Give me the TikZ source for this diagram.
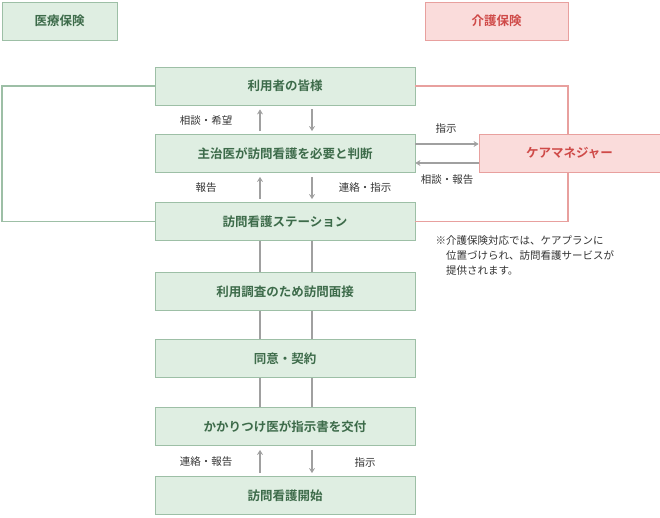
\documentclass[tikz,border=0pt]{standalone}
\usepackage{fontspec}
\setmainfont{Noto Sans CJK JP}
\newfontfamily\jpb{Noto Sans CJK JP Bold}
\usetikzlibrary{arrows.meta}
\definecolor{gfill}{HTML}{DFEEE2}
\definecolor{gline}{HTML}{9DBFA6}
\definecolor{gtext}{HTML}{3D6B4A}
\definecolor{pfill}{HTML}{FADCDB}
\definecolor{pline}{HTML}{E8A09E}
\definecolor{ptext}{HTML}{CF4A48}
\definecolor{arr}{HTML}{A0A0A0}
\begin{document}
\begin{tikzpicture}[x=1pt,y=-1pt,
 gbox/.style={draw=gline,fill=gfill,text=gtext,font=\jpb\fontsize{12.5}{14}\selectfont,line width=0.8pt},
 pbox/.style={draw=pline,fill=pfill,text=ptext,font=\jpb\fontsize{12.5}{14}\selectfont,line width=0.8pt},
 lab/.style={font=\fontsize{10.5}{12}\selectfont,text=black!80},
 ar/.style={draw=arr,line width=1.6pt,-{Stealth[length=5pt,width=6pt]}},
 ln/.style={draw=arr,line width=1.6pt}]
\useasboundingbox (0,0) rectangle (660,517);
\node[gbox,minimum width=115pt,minimum height=38pt] (iryo) at (59.5,21) {医療保険};
\node[pbox,minimum width=143pt,minimum height=38pt] (kaigo) at (496.5,21) {介護保険};
\foreach \n/\y/\t in {r1/86/利用者の皆様,r2/153.5/主治医が訪問看護を必要と判断,r3/221.5/訪問看護ステーション,r4/291.5/利用調査のため訪問面接,r5/358.5/同意・契約,r6/426.5/かかりつけ医が指示書を交付,r7/495.5/訪問看護開始}
 \node[gbox,minimum width=260pt,minimum height=38pt] (\n) at (285,\y) {\t};
\node[pbox,minimum width=181pt,minimum height=38pt] (cm) at (569.5,153.5) {ケアマネジャー};
\coordinate (L1) at (2,86); \coordinate (L2) at (2,221.5);
\coordinate (R1) at (568,86); \coordinate (R2) at (568,221.5);
\draw[gline,line width=1.2pt] (r1.west) -- (L1) -- (L2) -- (r3.west);
\draw[pline,line width=1.2pt] (r1.east) -- (R1) -- (cm.north -| R1);
\draw[pline,line width=1.2pt] (r3.east) -- (R2) -- (cm.south -| R2);
\draw[ar] ([yshift=3pt]r2.north -| 260,0) -- ([yshift=-4pt]r1.south -| 260,0);
\draw[ar] ([yshift=-4pt]r1.south -| 312,0) -- ([yshift=3pt]r2.north -| 312,0);
\draw[ar] ([yshift=3pt]r3.north -| 260,0) -- ([yshift=-4pt]r2.south -| 260,0);
\draw[ar] ([yshift=-4pt]r2.south -| 312,0) -- ([yshift=3pt]r3.north -| 312,0);
\draw[ar] ([yshift=3pt]r7.north -| 260,0) -- ([yshift=-4pt]r6.south -| 260,0);
\draw[ar] ([yshift=-4pt]r6.south -| 312,0) -- ([yshift=3pt]r7.north -| 312,0);
\draw[ar] (r2.east |- 0,144) -- (cm.west |- 0,144);
\draw[ar] (cm.west |- 0,163) -- (r2.east |- 0,163);
\foreach \a/\b in {r3/r4,r4/r5,r5/r6}{
 \draw[ln] (\a.south -| 260,0) -- (\b.north -| 260,0);
 \draw[ln] (\a.south -| 312,0) -- (\b.north -| 312,0);}
\node[lab] (l1) at (206,120) {相談・希望};
\node[lab] (l2) at (206,188) {報告};
\node[lab] (l3) at (365,188) {連絡・指示};
\node[lab] (l4) at (446,129) {指示};
\node[lab] (l5) at (447,180) {相談・報告};
\node[lab] (l6) at (206,462) {連絡・報告};
\node[lab] (l7) at (365,462) {指示};
\node[lab,align=left,anchor=north west,font=\fontsize{10.5}{15}\selectfont] (note) at (432,232) {※介護保険対応では、ケアプランに\\\hspace*{1em}位置づけられ、訪問看護サービスが\\\hspace*{1em}提供されます。};
\end{tikzpicture}
\end{document}
